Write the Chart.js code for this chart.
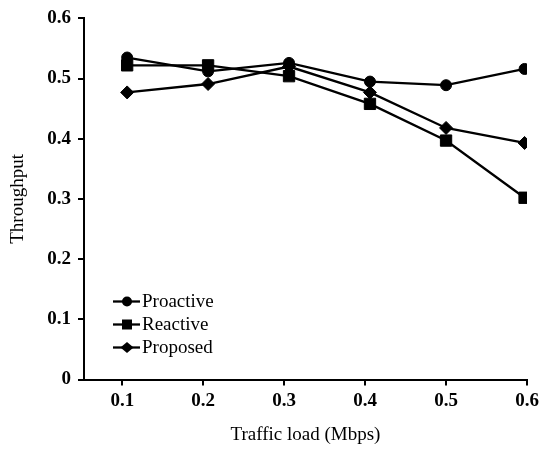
<!DOCTYPE html>
<html>
<head>
<meta charset="utf-8">
<script src="https://cdn.jsdelivr.net/npm/chart.js@4/dist/chart.umd.min.js"></script>
<style>
  html, body { margin: 0; padding: 0; background: #fff; }
  #wrap { width: 544px; height: 449px; }
</style>
</head>
<body>
<div id="wrap"><canvas id="chart"></canvas></div>
<script>
// Values
var loads = [0.106, 0.206, 0.306, 0.406, 0.5, 0.597];   // where the points sit on the x axis
var xTicks = [0.1, 0.2, 0.3, 0.4, 0.5, 0.6];
var yTicks = [0, 0.1, 0.2, 0.3, 0.4, 0.5, 0.6];
var proactive = [0.535, 0.512, 0.526, 0.495, 0.489, 0.516];
var reactive = [0.522, 0.522, 0.504, 0.458, 0.397, 0.302];
var proposed = [0.477, 0.491, 0.520, 0.477, 0.418, 0.393];

var SERIF = '"Liberation Serif", "Times New Roman", serif';

function pts(values) {
    return values.map(function(v, i) { return { x: loads[i], y: v }; });
}

function series(label, values, style, radius) {
    return {
        label: label,
        data: pts(values),
        borderColor: '#000',
        backgroundColor: '#000',
        borderWidth: 2.3,
        pointStyle: style,
        pointRadius: radius,
        pointHoverRadius: radius,
        pointBorderWidth: 1,
        tension: 0
    };
}

// Legend drawn inside the plot, lower left: short line with the marker, then the label.
var innerLegend = {
    id: 'innerLegend',
    afterDatasetsDraw: function(chart) {
        var ctx = chart.ctx;
        var area = chart.chartArea;
        ctx.save();
        chart.data.datasets.forEach(function(ds, i) {
            var y = area.bottom - 78 + i * 23;
            var x0 = area.left + 29, x1 = area.left + 56, xm = area.left + 43;
            ctx.strokeStyle = '#000';
            ctx.fillStyle = '#000';
            ctx.lineWidth = 2.3;
            ctx.beginPath();
            ctx.moveTo(x0, y);
            ctx.lineTo(x1, y);
            ctx.stroke();
            ctx.beginPath();
            if (ds.pointStyle === 'circle') {
                ctx.arc(xm, y, 5, 0, Math.PI * 2);
            } else if (ds.pointStyle === 'rect') {
                ctx.rect(xm - 5, y - 5, 10, 10);
            } else {
                ctx.moveTo(xm - 6.5, y);
                ctx.lineTo(xm, y - 5.5);
                ctx.lineTo(xm + 6.5, y);
                ctx.lineTo(xm, y + 5.5);
                ctx.closePath();
            }
            ctx.fill();
            ctx.font = '19px ' + SERIF;
            ctx.textBaseline = 'middle';
            ctx.textAlign = 'left';
            ctx.fillText(ds.label, x1 + 2, y + 1);
        });
        ctx.restore();
    }
};

var ctx = document.getElementById('chart');
ctx.chart = new Chart(ctx, {
    type: 'line',
    data: {
        datasets: [
            series('Proactive', proactive, 'circle', 5.5),
            series('Reactive', reactive, 'rect', 8),
            series('Proposed', proposed, 'rectRot', 6.5)
        ]
    },
    options: {
        responsive: true,
        maintainAspectRatio: false,
        animation: false,
        layout: {
            padding: { top: 14, right: 17, bottom: 0, left: 0 }
        },
        plugins: {
            legend: { display: false },
            tooltip: { enabled: false }
        },
        scales: {
            x: {
                type: 'linear',
                min: 0.0527,
                max: 0.6,
                afterBuildTicks: function(scale) {
                    scale.ticks = xTicks.map(function(v) { return { value: v }; });
                },
                afterFit: function(scale) { scale.height = 69.5; },
                border: { display: true, color: '#000', width: 2 },
                grid: {
                    drawOnChartArea: false,
                    drawTicks: true,
                    tickLength: 6,
                    color: '#000',
                    lineWidth: 2
                },
                ticks: {
                    color: '#000',
                    padding: 4,
                    maxRotation: 0,
                    font: { family: SERIF, size: 19, weight: 'bold' },
                    callback: function(v) { return v.toFixed(1); }
                },
                title: {
                    display: true,
                    text: 'Traffic load (Mbps)',
                    color: '#000',
                    font: { family: SERIF, size: 19 },
                    padding: { top: 0, bottom: 3 }
                }
            },
            y: {
                min: 0,
                max: 0.6,
                afterBuildTicks: function(scale) {
                    scale.ticks = yTicks.map(function(v) { return { value: v }; });
                },
                afterFit: function(scale) { scale.width = 84; },
                border: { display: true, color: '#000', width: 2 },
                grid: {
                    drawOnChartArea: false,
                    drawTicks: true,
                    tickLength: 6,
                    color: '#000',
                    lineWidth: 2
                },
                ticks: {
                    color: '#000',
                    padding: 7,
                    font: { family: SERIF, size: 19, weight: 'bold' },
                    callback: function(v) { return v === 0 ? '0' : v.toFixed(1); }
                },
                title: {
                    display: true,
                    text: 'Throughput',
                    color: '#000',
                    font: { family: SERIF, size: 19 },
                    padding: { top: 7, bottom: 0 }
                }
            }
        }
    },
    plugins: [innerLegend]
});
</script>
</body>
</html>
